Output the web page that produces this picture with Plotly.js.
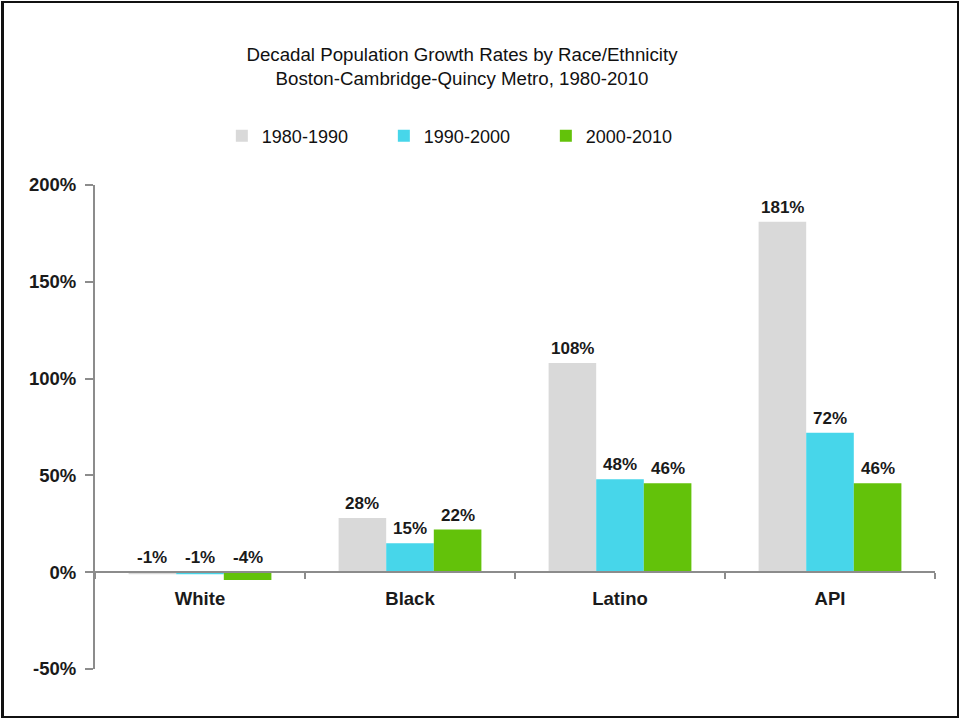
<!DOCTYPE html>
<html>
<head>
<meta charset="utf-8">
<script src="https://cdn.plot.ly/plotly-3.0.1.min.js"></script>
<style>
  html, body { margin: 0; padding: 0; background: #fff; }
  #wrap { position: relative; width: 959px; height: 719px; }
  #chart { width: 959px; height: 719px; }
  #frame { position: absolute; left: 1px; top: 1px; width: 953px; height: 713px;
           border: 2px solid #111; border-left-width: 3px; pointer-events: none; }
</style>
</head>
<body>
<div id="wrap"><div id="chart"></div><div id="frame"></div></div>
<script>
const categories = ["White", "Black", "Latino", "API"];
const seriesNames = ["1980-1990", "1990-2000", "2000-2010"];
const s1980 = [-1, 28, 108, 181];
const s1990 = [-1, 15, 48, 72];
const s2000 = [-4, 22, 46, 46];
const yTickVals = [-50, 0, 50, 100, 150, 200];
const yTickLabels = ["-50%", "0%", "50%", "100%", "150%", "200%"];
const colors = ["#d9d9d9", "#47d6ea", "#63c20a"];

const seriesValues = [s1980, s1990, s2000];
const yMin = -50, yMax = 200;
const bargap = 0.32;
const font = "Liberation Sans, Arial, sans-serif";

const traces = seriesValues.map((vals, i) => ({
  type: "bar",
  name: seriesNames[i],
  x: categories,
  y: vals,
  marker: { color: colors[i] },
  hoverinfo: "skip"
}));

const nS = seriesValues.length;
const bw = (1 - bargap) / nS;
const annotations = [];
seriesValues.forEach((vals, i) => {
  vals.forEach((v, j) => {
    annotations.push({
      x: j + (i - (nS - 1) / 2) * bw,
      y: Math.max(v, 0),
      xref: "x", yref: "y",
      text: "<b>" + v + "%</b>",
      showarrow: false,
      yanchor: "bottom",
      yshift: 3,
      font: { family: font, size: 17, color: "#1a1a1a" }
    });
  });
});

const layout = {
  width: 959, height: 719,
  margin: { l: 95, r: 24, t: 185, b: 50 },
  paper_bgcolor: "#fff", plot_bgcolor: "#fff",
  title: {
    text: "Decadal Population Growth Rates by Race/Ethnicity<br>Boston-Cambridge-Quincy Metro, 1980-2010",
    font: { family: font, size: 18.7, color: "#111" },
    x: 462 / 959, xanchor: "center",
    y: 1 - 61 / 719, yanchor: "top"
  },
  barmode: "group",
  bargap: bargap,
  bargroupgap: 0,
  showlegend: true,
  legend: {
    orientation: "h",
    x: 0.151, xanchor: "left",
    y: 1.101, yanchor: "middle",
    entrywidth: 117,
    font: { family: font, size: 18, color: "#111" },
    traceorder: "normal"
  },
  xaxis: {
    type: "category",
    anchor: "free",
    position: (0 - yMin) / (yMax - yMin),
    showline: true, linecolor: "#8c8c8c", linewidth: 2,
    ticks: "outside", tickson: "boundaries", ticklen: 6, tickcolor: "#8c8c8c", tickwidth: 2,
    ticklabelstandoff: 10,
    showgrid: false, zeroline: false,
    tickfont: { family: font, size: 18.5, color: "#1a1a1a", weight: "bold" },
    fixedrange: true
  },
  yaxis: {
    range: [yMin, yMax],
    tickmode: "array",
    tickvals: yTickVals,
    ticktext: yTickLabels,
    showline: true, linecolor: "#8c8c8c", linewidth: 2,
    ticks: "outside", ticklen: 8, tickcolor: "#8c8c8c", tickwidth: 2,
    ticklabelstandoff: 5,
    showgrid: false, zeroline: false,
    tickfont: { family: font, size: 18.5, color: "#1a1a1a", weight: "bold" },
    fixedrange: true
  },
  annotations: annotations
};

Plotly.newPlot("chart", traces, layout, { displayModeBar: false, staticPlot: true });
</script>
</body>
</html>
